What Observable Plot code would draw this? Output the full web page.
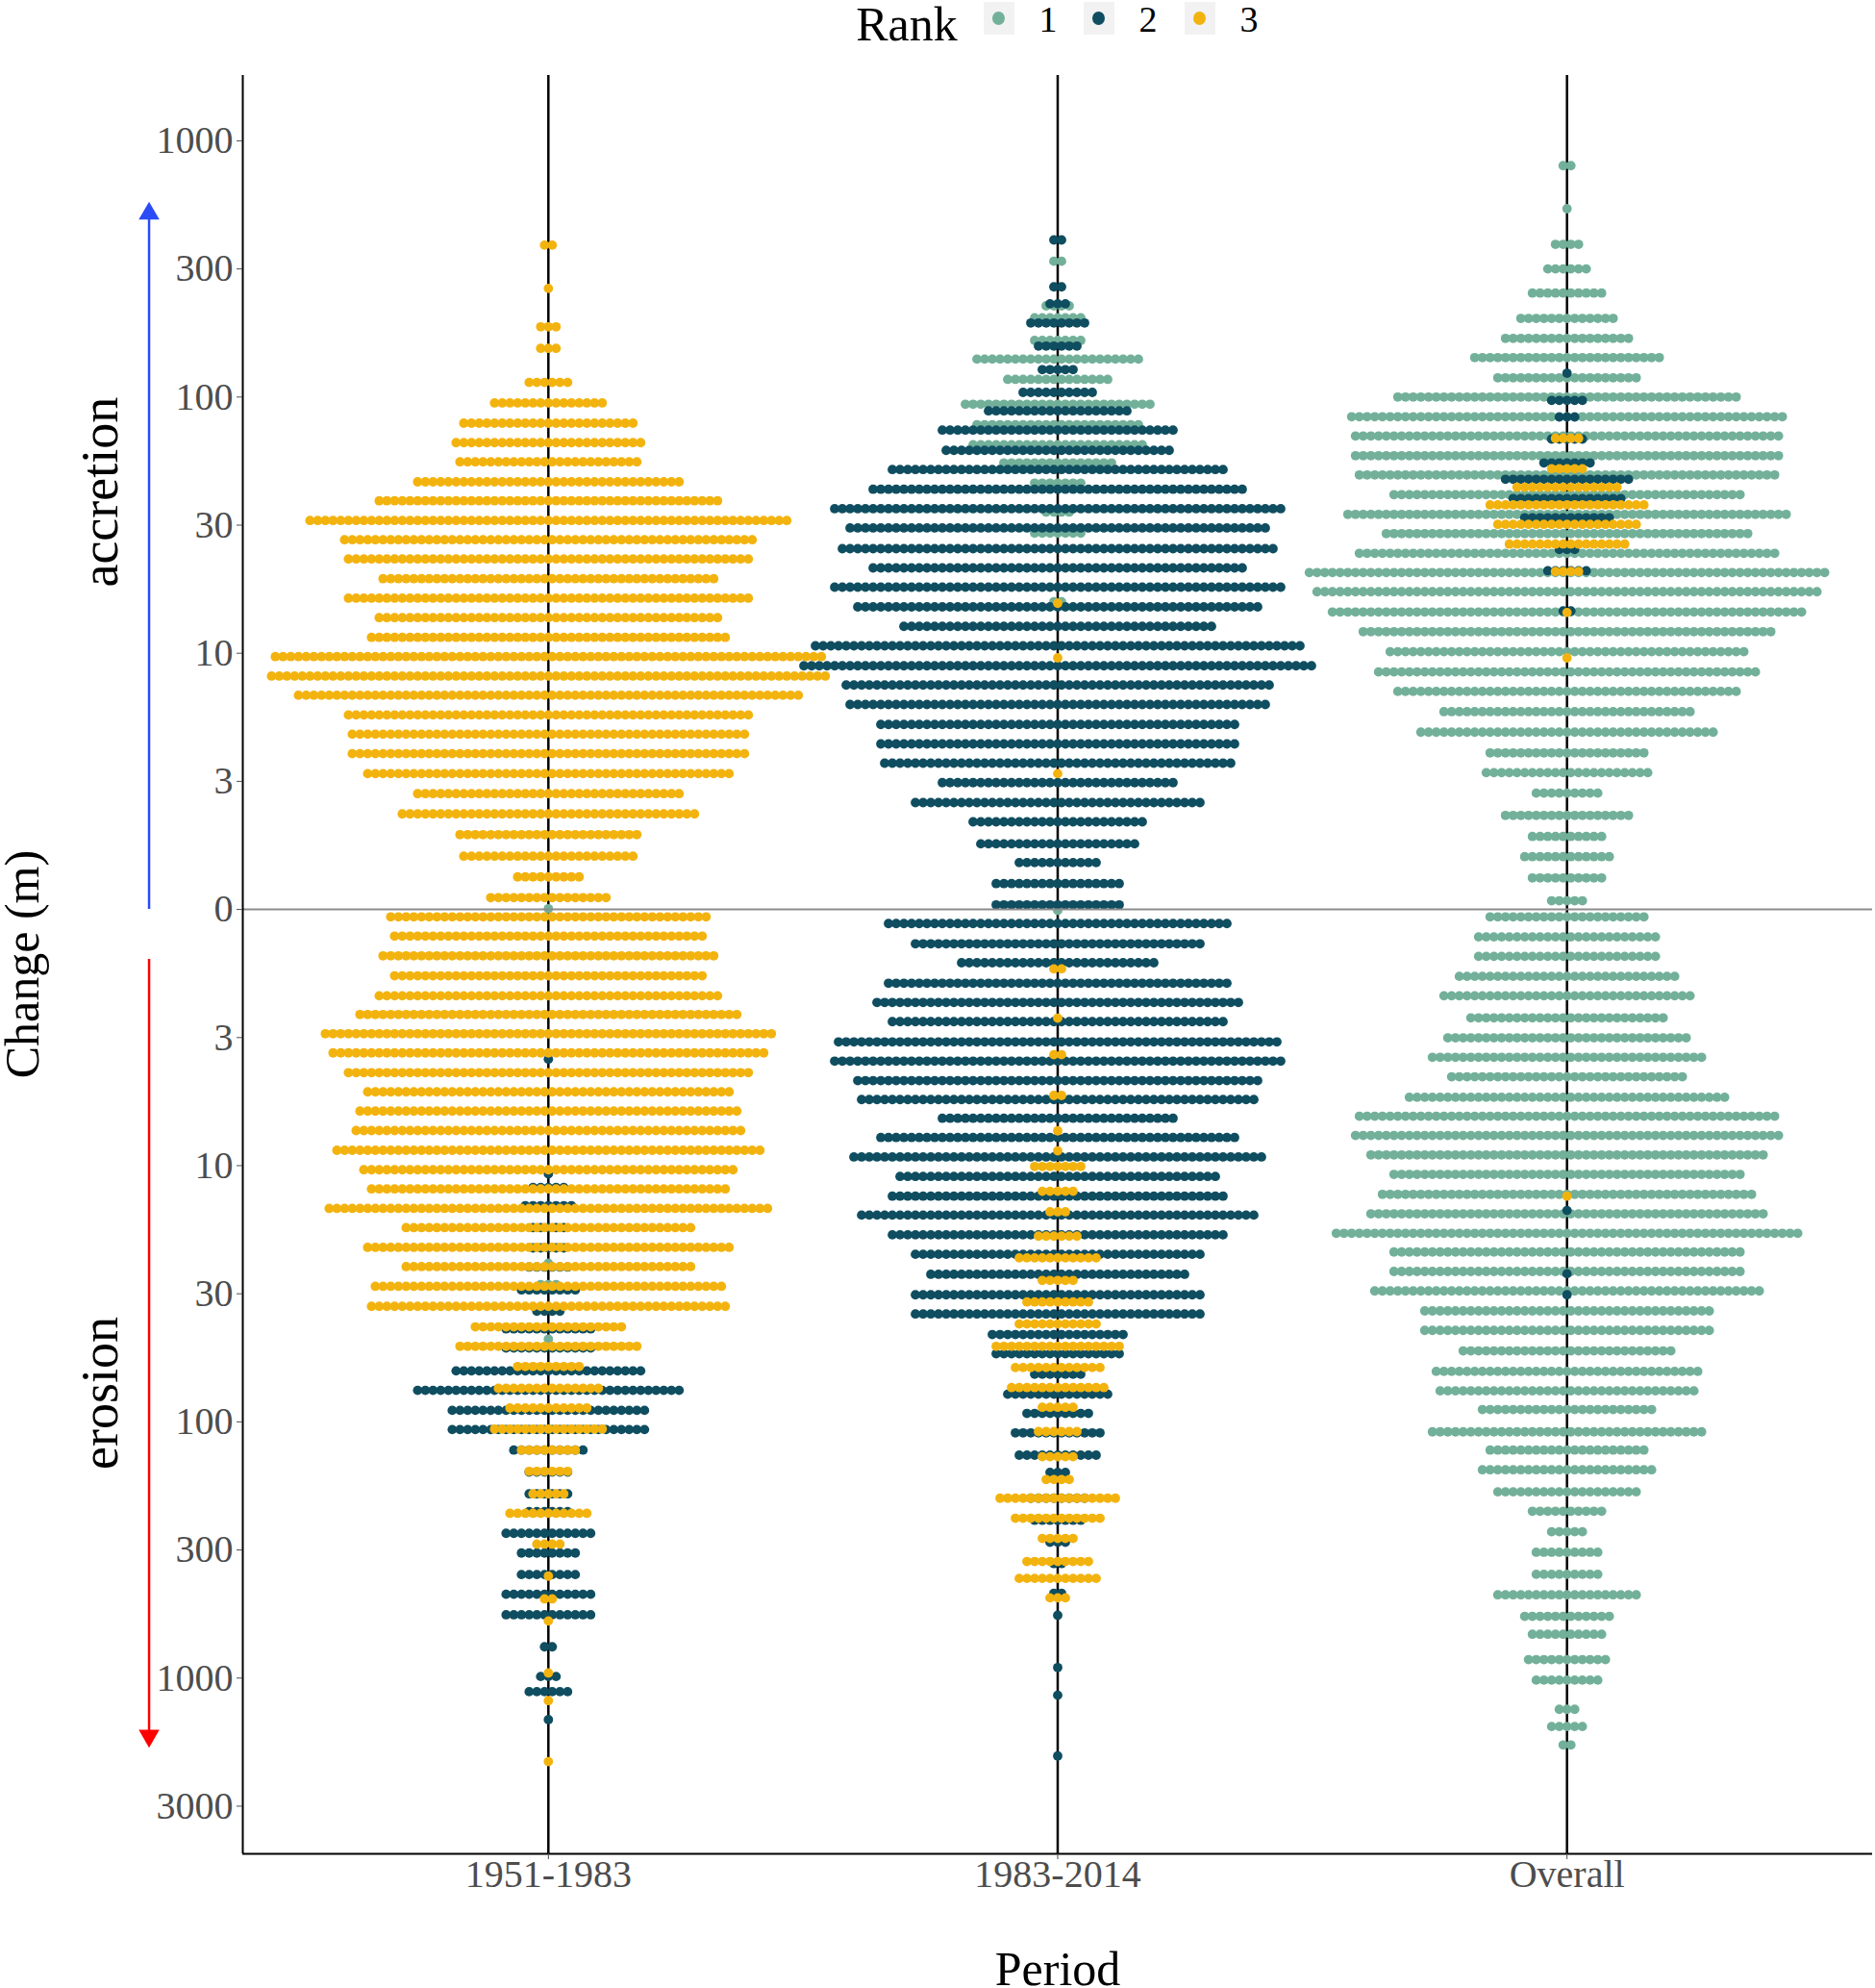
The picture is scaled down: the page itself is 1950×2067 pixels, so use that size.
<!DOCTYPE html>
<html lang="en">
<head>
<meta charset="UTF-8">
<title>Change by period and rank</title>
<script src="https://cdn.jsdelivr.net/npm/d3@7"></script>
<script src="https://cdn.jsdelivr.net/npm/@observablehq/plot@0.6"></script>
<style>
  body { margin: 0; background: #fff; font-family: "Liberation Serif", serif; }
  #chart { position: relative; width: 1950px; height: 2067px; overflow: hidden; }
  #legend span, #legend i { position: absolute; display: block; }
  #legend .box { top: 2px; width: 32px; height: 34px; background: #f2f2f2; }
  #legend i { top: 12px; width: 13px; height: 14px; border-radius: 50%; }
  #legend span { color: #000; white-space: nowrap; transform: translateX(-50%); line-height: 1; }
</style>
</head>
<body>
<div id="chart"><div id="legend"></div></div>
<script>
// periods and ranks
const periods = ["1951-1983", "1983-2014", "Overall"];
const ranks = [1, 2, 3];
const rankColors = ["#72b09a", "#0f4d60", "#f3b30f"];

// y axis: signed log10 of the change, accretion up and erosion down
const tickPos = [-3.5, -3, -2.5, -2, -1.5, -1, -0.5, 0, 0.5, 1, 1.5, 2, 2.5, 3];
const tickLabels = ["3000", "1000", "300", "100", "30", "10", "3", "0", "3", "10", "30", "100", "300", "1000"];

// 1951-1983, rank 1
const p1r1Y = [0.003, -1.381, -1.464, -1.677];
const p1r1N = [1, 1, 3, 1];
// 1951-1983, rank 2
const p1r2Y = [-0.584, -1.032, -1.085, -1.156, -1.242, -1.321, -1.396, -1.485, -1.568, -1.637, -1.712, -1.801, -1.877, -1.955, -2.03, -2.11, -2.196, -2.281, -2.35, -2.435, -2.512, -2.596, -2.673, -2.753, -2.878, -2.994, -3.053, -3.162];
const p1r2N = [1, 1, 5, 7, 5, 5, 6, 8, 4, 12, 12, 25, 35, 26, 26, 10, 6, 6, 6, 12, 8, 8, 12, 12, 2, 3, 6, 1];
// 1951-1983, rank 3
const p1r3Y = [2.593, 2.424, 2.274, 2.19, 2.057, 1.977, 1.898, 1.822, 1.747, 1.669, 1.595, 1.518, 1.443, 1.368, 1.291, 1.215, 1.139, 1.062, 0.987, 0.911, 0.836, 0.759, 0.684, 0.608, 0.53, 0.452, 0.373, 0.292, 0.208, 0.127, 0.046,
  -0.029, -0.104, -0.181, -0.259, -0.337, -0.41, -0.485, -0.56, -0.637, -0.712, -0.787, -0.863, -0.94, -1.016, -1.091, -1.167, -1.242, -1.319, -1.394, -1.471, -1.549, -1.629, -1.705, -1.784, -1.869, -1.946, -2.028, -2.11, -2.193, -2.281, -2.357, -2.477, -2.602, -2.691, -2.777, -2.98, -3.088, -3.326];
const p1r3N = [2, 1, 3, 3, 6, 15, 23, 25, 24, 35, 45, 63, 54, 53, 44, 53, 45, 47, 72, 73, 66, 53, 52, 52, 48, 35, 39, 24, 23, 9, 16,
  42, 41, 44, 41, 45, 50, 59, 57, 53, 48, 50, 51, 56, 49, 47, 58, 38, 48, 38, 46, 47, 20, 24, 9, 14, 11, 15, 8, 6, 5, 11, 4, 1, 2, 1, 1, 1, 1];

// 1983-2014, rank 1
const p2r1Y = [2.53, 2.356, 2.309, 2.221, 2.148, 2.069, 1.972, 1.892, 1.814, 1.743, 1.664, 1.551, 1.469, 1.201, -0.004];
const p2r1N = [2, 4, 7, 7, 22, 14, 25, 22, 23, 15, 7, 4, 7, 2, 1];
// 1983-2014, rank 2
const p2r2Y = [2.613, 2.43, 2.364, 2.289, 2.199, 2.107, 2.018, 1.946, 1.871, 1.792, 1.717, 1.64, 1.564, 1.489, 1.408, 1.333, 1.258, 1.181, 1.105, 1.029, 0.951, 0.876, 0.8, 0.722, 0.646, 0.571, 0.495, 0.417, 0.342, 0.256, 0.183, 0.101, 0.018,
  -0.055, -0.134, -0.208, -0.288, -0.363, -0.438, -0.517, -0.592, -0.668, -0.742, -0.815, -0.89, -0.966, -1.042, -1.119, -1.193, -1.27, -1.346, -1.424, -1.504, -1.579, -1.659, -1.734, -1.814, -1.892, -1.967, -2.043, -2.13, -2.197, -2.298, -2.384, -2.47, -2.553, -2.669, -2.755, -2.959, -3.067, -3.304];
const p2r2N = [2, 2, 3, 8, 6, 5, 10, 19, 31, 30, 44, 49, 59, 55, 57, 49, 59, 53, 41, 64, 67, 56, 55, 47, 47, 46, 31, 38, 23, 21, 11, 17, 17,
  45, 38, 26, 45, 48, 44, 58, 59, 53, 52, 31, 47, 54, 42, 44, 52, 44, 38, 34, 38, 38, 18, 17, 7, 14, 9, 12, 11, 3, 8, 7, 3, 2, 2, 1, 1, 1, 1];
// 1983-2014, rank 3
const p2r3Y = [1.195, 0.982, 0.53, -0.232, -0.424, -0.567, -0.726, -0.864, -0.942, -1.003, -1.1, -1.18, -1.275, -1.36, -1.448, -1.532, -1.618, -1.705, -1.788, -1.866, -1.943, -2.038, -2.136, -2.225, -2.298, -2.376, -2.455, -2.545, -2.611, -2.687];
const p2r3N = [1, 1, 1, 2, 1, 2, 2, 1, 1, 7, 5, 3, 6, 11, 5, 9, 11, 17, 12, 13, 5, 6, 5, 4, 16, 12, 5, 9, 11, 3];

// Overall, rank 1
const p3r1Y = [2.903, 2.735, 2.596, 2.5, 2.406, 2.307, 2.229, 2.154, 2.075, 2, 1.923, 1.848, 1.771, 1.696, 1.619, 1.542, 1.467, 1.39, 1.315, 1.24, 1.161, 1.084, 1.006, 0.927, 0.851, 0.772, 0.692, 0.611, 0.534, 0.454, 0.367, 0.285, 0.206, 0.123, 0.034,
  -0.029, -0.107, -0.183, -0.261, -0.337, -0.423, -0.501, -0.577, -0.653, -0.733, -0.807, -0.882, -0.958, -1.034, -1.112, -1.188, -1.264, -1.337, -1.413, -1.489, -1.567, -1.643, -1.723, -1.803, -1.879, -1.952, -2.039, -2.11, -2.187, -2.273, -2.349, -2.429, -2.509, -2.595, -2.675, -2.759, -2.829, -2.928, -3.008, -3.122, -3.189, -3.261];
const p3r1N = [2, 1, 4, 6, 10, 13, 17, 25, 19, 45, 57, 56, 56, 55, 46, 58, 48, 55, 68, 66, 62, 54, 47, 50, 45, 33, 39, 21, 22, 9, 17, 10, 12, 10, 5,
  21, 24, 24, 29, 33, 26, 32, 36, 31, 42, 55, 56, 52, 46, 49, 52, 61, 46, 46, 51, 38, 38, 28, 35, 34, 23, 36, 21, 23, 19, 10, 5, 9, 9, 19, 12, 10, 11, 9, 3, 5, 2];
// Overall, rank 2
const p3r2Y = [2.093, 1.987, 1.922, 1.836, 1.743, 1.679, 1.604, 1.529, 1.405, 1.322, 1.165, -1.175, -1.422, -1.504];
const p3r2N = [1, 5, 3, 5, 7, 17, 15, 12, 3, 6, 2, 1, 1, 1];
// Overall, rank 3
const p3r3Y = [1.839, 1.72, 1.648, 1.579, 1.503, 1.426, 1.319, 1.159, 0.982, -1.119];
const p3r3N = [4, 5, 14, 21, 19, 16, 4, 1, 1, 1];

const series = [
  [0, 1, p1r1Y, p1r1N], [1, 1, p2r1Y, p2r1N], [2, 1, p3r1Y, p3r1N],
  [0, 2, p1r2Y, p1r2N], [1, 2, p2r2Y, p2r2N], [2, 2, p3r2Y, p3r2N],
  [0, 3, p1r3Y, p1r3N], [1, 3, p2r3Y, p2r3N], [2, 3, p3r3Y, p3r3N]
];

// one dot per observation, stacked sideways from the column centre
const dotStep = 0.0151;
const dots = [];
for (const [col, rank, ys, ns] of series) {
  ys.forEach((y, i) => {
    for (let k = 0; k < ns[i]; k++) {
      dots.push({ x: col + (k - (ns[i] - 1) / 2) * dotStep, y, rank });
    }
  });
}

const yTop = 3.255, yBottom = -3.686;
const serif = "Liberation Serif";

const plot = Plot.plot({
  width: 1950,
  height: 2067,
  marginLeft: 252,
  marginRight: 3,
  marginTop: 78,
  marginBottom: 140,
  style: { fontFamily: serif, background: "transparent" },
  x: { domain: [-0.6, 2.6] },
  y: { domain: [yBottom, yTop] },
  color: { type: "ordinal", domain: ranks, range: rankColors },
  marks: [
    Plot.ruleX([0, 1, 2], { stroke: "#000", strokeWidth: 2.5 }),
    Plot.dot(dots, { x: "x", y: "y", fill: "rank", r: 4.9 }),
    Plot.ruleY([0], { stroke: "#8c8c8c", strokeWidth: 2 }),
    Plot.ruleX([-0.6], { stroke: "#000", strokeWidth: 2 }),
    Plot.ruleY([yBottom], { stroke: "#000", strokeWidth: 2 }),
    Plot.axisY({ ticks: tickPos, tickSize: 6, tickPadding: 4, label: null, fontSize: 40, color: "#4d4d4d",
      tickFormat: d => tickLabels[tickPos.indexOf(d)] }),
    Plot.axisX({ ticks: [0, 1, 2], tickSize: 6, tickPadding: 0, label: null, fontSize: 40, color: "#4d4d4d",
      tickFormat: d => periods[d] }),
    // accretion / erosion arrows
    Plot.ruleX([-0.784], { y1: 0, y2: 2.716, stroke: "#2a4bf5", strokeWidth: 2.5 }),
    Plot.dot([0], { x: () => -0.784, y: () => 2.716, symbol: "triangle", r: 8, fill: "#2a4bf5" }),
    Plot.ruleX([-0.784], { y1: -0.195, y2: -3.225, stroke: "#ff0000", strokeWidth: 2.5 }),
    Plot.dot([0], { x: () => -0.784, y: () => -3.225, symbol: "triangle", r: 8, fill: "#ff0000", rotate: 180 }),
    // axis titles
    Plot.text(["accretion"], { x: () => -0.879, y: () => 1.629, text: d => d, rotate: -90, fontSize: 54, fill: "#000" }),
    Plot.text(["erosion"], { x: () => -0.879, y: () => -1.888, text: d => d, rotate: -90, fontSize: 54, fill: "#000" }),
    Plot.text(["Change (m)"], { x: () => -1.032, y: () => -0.214, text: d => d, rotate: -90, fontSize: 50, fill: "#000" }),
    Plot.text(["Period"], { x: () => 1, y: () => -4.14, text: d => d, fontSize: 50, fill: "#000" })
  ]
});
document.querySelector("#chart").prepend(plot);

// legend above the panel
const legend = document.querySelector("#legend");
const keyX = [1023, 1127, 1232], labelX = [1090, 1194, 1299];
let html = `<span style="left:943px;top:0px;font-size:50px">Rank</span>`;
ranks.forEach((r, i) => {
  html += `<b class="box" style="position:absolute;left:${keyX[i]}px"></b>`;
  html += `<i style="left:${keyX[i] + 9}px;background:${rankColors[i]}"></i>`;
  html += `<span style="left:${labelX[i]}px;top:1px;font-size:38px">${r}</span>`;
});
legend.innerHTML = html;
</script>
</body>
</html>
